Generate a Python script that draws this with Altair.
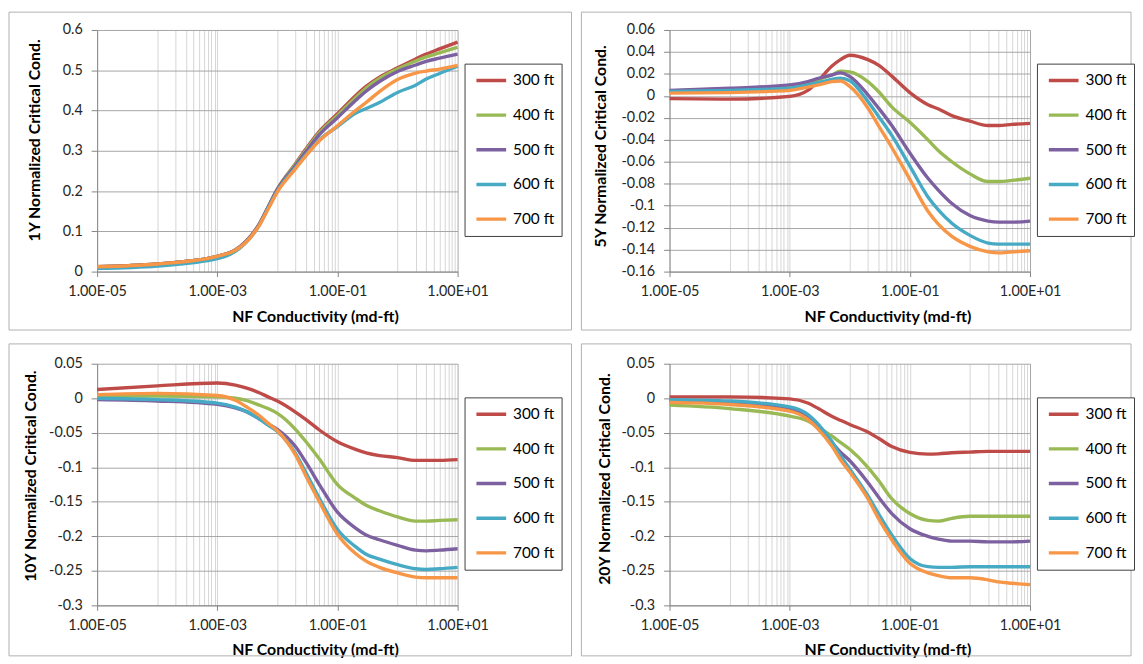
import altair as alt
import pandas as pd

SERIES = ["300 ft", "400 ft", "500 ft", "600 ft", "700 ft"]
COLORS = ["#BE4B48", "#98B954", "#7D60A0", "#46AAC5", "#F79646"]

# NF conductivity (md-ft) sample points
X = [1e-5, 1e-4, 1e-3, 2e-3, 3e-3, 5e-3, 7e-3, 1e-2, 2e-2, 3e-2, 5e-2,
     1e-1, 2e-1, 3e-1, 5e-1, 1, 2, 3, 5, 10]

Y1 = {
    "300 ft": [0.012, 0.019, 0.038, 0.054, 0.075, 0.118, 0.16, 0.205, 0.268, 0.305, 0.348, 0.392, 0.437, 0.46, 0.483, 0.506, 0.528, 0.54, 0.553, 0.57],
    "400 ft": [0.012, 0.019, 0.038, 0.054, 0.075, 0.118, 0.16, 0.205, 0.266, 0.302, 0.345, 0.388, 0.432, 0.456, 0.48, 0.503, 0.523, 0.533, 0.543, 0.557],
    "500 ft": [0.012, 0.019, 0.038, 0.054, 0.075, 0.118, 0.16, 0.204, 0.263, 0.298, 0.34, 0.382, 0.425, 0.448, 0.472, 0.497, 0.513, 0.522, 0.53, 0.54],
    "600 ft": [0.008, 0.014, 0.032, 0.05, 0.072, 0.115, 0.157, 0.2, 0.258, 0.29, 0.327, 0.36, 0.393, 0.405, 0.42, 0.445, 0.463, 0.478, 0.492, 0.51],
    "700 ft": [0.012, 0.019, 0.038, 0.053, 0.073, 0.115, 0.155, 0.198, 0.255, 0.288, 0.325, 0.362, 0.4, 0.42, 0.447, 0.477, 0.493, 0.498, 0.503, 0.512],
}
Y5 = {
    "300 ft": [-0.0025, -0.003, -0.0005, 0.005, 0.014, 0.027, 0.033, 0.037, 0.033, 0.028, 0.018, 0.003, -0.008, -0.012, -0.018, -0.023, -0.027, -0.027, -0.026, -0.025],
    "400 ft": [0.0045, 0.0065, 0.009, 0.012, 0.015, 0.019, 0.0225, 0.0218, 0.013, 0.004, -0.01, -0.024, -0.04, -0.05, -0.06, -0.071, -0.078, -0.078, -0.077, -0.075],
    "500 ft": [0.005, 0.007, 0.010, 0.013, 0.016, 0.019, 0.021, 0.0176, 0.001, -0.011, -0.027, -0.052, -0.075, -0.086, -0.098, -0.109, -0.114, -0.115, -0.115, -0.114],
    "600 ft": [0.004, 0.005, 0.007, 0.010, 0.012, 0.015, 0.016, 0.0137, -0.005, -0.0185, -0.036, -0.064, -0.092, -0.104, -0.116, -0.127, -0.134, -0.135, -0.135, -0.135],
    "700 ft": [0.0025, 0.003, 0.005, 0.008, 0.010, 0.013, 0.0135, 0.0086, -0.011, -0.027, -0.047, -0.076, -0.105, -0.117, -0.128, -0.137, -0.142, -0.143, -0.142, -0.141],
}
Y10 = {
    "300 ft": [0.0127, 0.018, 0.022, 0.019, 0.015, 0.008, 0.002, -0.004, -0.02, -0.031, -0.046, -0.063, -0.074, -0.079, -0.083, -0.086, -0.09, -0.09, -0.09, -0.089],
    "400 ft": [0.003, 0.003, 0.002, 0.0, -0.003, -0.01, -0.015, -0.022, -0.045, -0.063, -0.088, -0.125, -0.145, -0.155, -0.163, -0.172, -0.178, -0.178, -0.177, -0.176],
    "500 ft": [-0.002, -0.004, -0.009, -0.014, -0.019, -0.03, -0.037, -0.045, -0.07, -0.093, -0.125, -0.165, -0.188, -0.198, -0.205, -0.213, -0.22, -0.221, -0.22, -0.218],
    "600 ft": [0.0, -0.002, -0.007, -0.013, -0.019, -0.03, -0.039, -0.048, -0.08, -0.108, -0.145, -0.19, -0.215, -0.226, -0.233, -0.241, -0.247, -0.248, -0.247, -0.245],
    "700 ft": [0.005, 0.007, 0.004, -0.003, -0.012, -0.025, -0.036, -0.047, -0.082, -0.113, -0.15, -0.197, -0.225, -0.236, -0.245, -0.253, -0.259, -0.26, -0.26, -0.26],
}
Y20 = {
    "300 ft": [0.002, 0.002, -0.001, -0.007, -0.015, -0.026, -0.032, -0.038, -0.049, -0.058, -0.07, -0.0785, -0.081, -0.0805, -0.079, -0.078, -0.077, -0.077, -0.077, -0.077],
    "400 ft": [-0.010, -0.015, -0.026, -0.033, -0.0426, -0.0546, -0.064, -0.074, -0.1, -0.119, -0.1456, -0.167, -0.177, -0.178, -0.174, -0.171, -0.171, -0.171, -0.171, -0.171],
    "500 ft": [-0.004, -0.007, -0.016, -0.028, -0.0426, -0.064, -0.078, -0.0905, -0.122, -0.143, -0.167, -0.189, -0.2, -0.204, -0.207, -0.207, -0.208, -0.208, -0.208, -0.207],
    "600 ft": [-0.002, -0.004, -0.0125, -0.0235, -0.038, -0.062, -0.083, -0.1025, -0.141, -0.167, -0.198, -0.232, -0.244, -0.245, -0.245, -0.244, -0.244, -0.244, -0.244, -0.244],
    "700 ft": [-0.006, -0.009, -0.0187, -0.0306, -0.045, -0.069, -0.089, -0.107, -0.1456, -0.174, -0.205, -0.239, -0.253, -0.257, -0.26, -0.26, -0.263, -0.266, -0.268, -0.27],
}

X_MAJOR = [1e-05, 0.001, 0.1, 10]
X_MAJOR_LABELS = ["1.00E-05", "1.00E-03", "1.00E-01", "1.00E+01"]
X_GRID = [1e-05, 0.0001, 0.0002, 0.0003, 0.0004, 0.0005, 0.0006, 0.0007, 0.0008, 0.0009,
          0.001, 0.01, 0.02, 0.03, 0.04, 0.05, 0.06, 0.07, 0.08, 0.09,
          0.1, 1, 2, 3, 4, 5, 6, 7, 8, 9, 10]

Y1_TICKS = [0, 0.1, 0.2, 0.3, 0.4, 0.5, 0.6]
Y5_TICKS = [-0.16, -0.14, -0.12, -0.1, -0.08, -0.06, -0.04, -0.02, 0, 0.02, 0.04, 0.06]
Y10_TICKS = [-0.3, -0.25, -0.2, -0.15, -0.1, -0.05, 0, 0.05]

X_TITLE = "NF Conductivity (md-ft)"
FONT = "Lato"
W, H = 364, 244

label_expr = " : ".join(
    f"datum.value == {repr(v)} ? '{lab}'" for v, lab in zip(X_MAJOR, X_MAJOR_LABELS)
) + " : ''"
major_test = "indexof([" + ",".join(repr(v) for v in X_MAJOR) + "], datum.value) >= 0"


def panel(data, ytitle, ydomain, yticks, ytx, yty, frame):
    rows = []
    for s in SERIES:
        for xv, yv in zip(X, data[s]):
            rows.append({"x": xv, "y": yv, "series": s})
    df = pd.DataFrame(rows)

    xaxis = alt.Axis(
        values=X_GRID, labelExpr=label_expr, grid=True,
        gridColor={"condition": {"test": "datum.value == 10", "value": "#a6a6a6"}, "value": "#d6d6d6"},
        tickOpacity={"condition": {"test": major_test, "value": 1}, "value": 0},
        tickSize=5, tickColor="#868686", domainColor="#868686",
        labelOverlap=False, labelFlush=False, labelBound=False, labelPadding=8,
        title=X_TITLE, titleX=220, titleY=45, titleBaseline="middle", titleAlign="center",
    )
    yaxis = alt.Axis(
        values=yticks, labelExpr="'' + datum.value", grid=True, gridColor="#a6a6a6",
        tickSize=6, tickColor="#868686", domainColor="#868686",
        labelOverlap=False, labelFlush=False, labelPadding=9,
        title=ytitle, titleX=ytx, titleY=yty, titleAngle=270,
        titleAlign="center", titleBaseline="middle",
    )
    legend = alt.Legend(
        orient="none", legendX=371, legendY=34, direction="vertical", title=None,
        strokeColor="#404040", fillColor="white", padding=7,
        symbolType="stroke", symbolSize=900, symbolStrokeWidth=3.5,
        clipHeight=20, rowPadding=15, symbolOffset=3, labelOffset=5,
        labelFont=FONT, labelFontSize=15.5, labelColor="#000000",
    )
    lines = alt.Chart(df).mark_line(strokeWidth=3.4, interpolate="monotone").encode(
        x=alt.X("x:Q", scale=alt.Scale(type="log", domain=[1e-5, 10], nice=False), axis=xaxis),
        y=alt.Y("y:Q", scale=alt.Scale(domain=ydomain, nice=False, zero=False), axis=yaxis),
        color=alt.Color("series:N", scale=alt.Scale(domain=SERIES, range=COLORS), legend=legend),
    )
    fx, fx2, fy, fy2 = frame
    box = alt.Chart(pd.DataFrame({"f": [0]})).mark_rect(
        fillOpacity=0, stroke="#b0b0b0", strokeWidth=1
    ).encode(x=alt.value(fx), x2=alt.value(fx2), y=alt.value(fy), y2=alt.value(fy2))
    return alt.layer(box, lines).properties(width=W, height=H)


p1 = panel(Y1, "1Y Normalized Critical Cond.", [0, 0.6], Y1_TICKS, -63, 111, (-89, 479, -18, 303))
p2 = panel(Y5, "5Y Normalized Critical Cond.", [-0.16, 0.06], Y5_TICKS, -70, 117, (-89, 466, -18, 303))
p3 = panel(Y10, "10Y Normalized Critical Cond.", [-0.3, 0.05], Y10_TICKS, -67, 113, (-89, 479, -20, 295))
p4 = panel(Y20, "20Y Normalized Critical Cond.", [-0.3, 0.05], Y10_TICKS, -66, 116, (-89, 466, -20, 295))

row1 = alt.hconcat(p1, p2, spacing=8).resolve_scale(color="independent", x="independent", y="independent")
row2 = alt.hconcat(p3, p4, spacing=8).resolve_scale(color="independent", x="independent", y="independent")

chart = alt.vconcat(row1, row2, spacing=12).resolve_scale(
    color="independent", x="independent", y="independent"
).properties(padding=0).configure(
    background="white", font=FONT
).configure_view(strokeWidth=0).configure_axis(
    labelFont=FONT, labelFontSize=14.5, labelColor="#262626",
    titleFont=FONT, titleFontSize=16, titleFontWeight="bold", titleColor="#000000",
)

chart.save("out.html", embed_options={"renderer": "svg", "actions": False})
